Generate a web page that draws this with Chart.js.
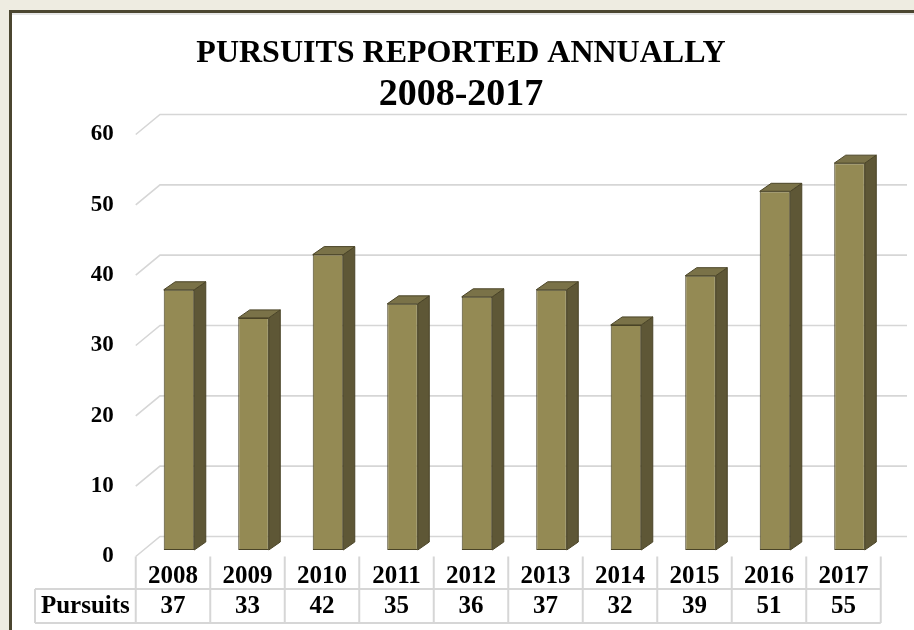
<!DOCTYPE html>
<html lang="en">
<head>
    <meta charset="UTF-8">
    <title>Pursuits Reported Annually</title>
    <script src="https://cdn.jsdelivr.net/npm/chart.js"></script>
    <style>
        html, body { margin: 0; padding: 0; background: #EEECE1; }
        body { width: 914px; height: 630px; position: relative; overflow: hidden; }
        .frame {
            position: absolute; left: 9px; top: 10px; right: -10px; bottom: -10px;
            background: #fff;
            border-left: 3px solid #4B4630;
            border-top: 3px solid #4B4630;
            box-shadow: inset 0 2px 0 #e6e6e6;
        }
        #chart { position: absolute; left: 0; top: 0; }
    </style>
</head>
<body>
    <div class="frame"></div>
    <canvas id="chart" width="914" height="630"></canvas>

    <script>
        // data
        const years = ["2008", "2009", "2010", "2011", "2012", "2013", "2014", "2015", "2016", "2017"];
        const pursuits = [37, 33, 42, 35, 36, 37, 32, 39, 51, 55];
        const rowLabel = "Pursuits";
        const yMax = 60;
        const yStep = 10;

        const serif = "'Liberation Serif', 'Times New Roman', serif";

        // 3d offsets, relative to the plane of the bar fronts
        const FRONT_DX = -6, FRONT_DY = 6.5;   // front edge of floor / table
        const BACK_DX = 18.25, BACK_DY = -13.5; // back wall
        const DEPTH_DX = 11.5, DEPTH_DY = -8;   // bar depth

        const threeD = {
            id: "threeD",
            beforeDatasetsDraw(chart) {
                const ctx = chart.ctx;
                const y = chart.scales.y, x = chart.scales.x;
                ctx.save();
                ctx.strokeStyle = "#d6d6d6";
                ctx.lineWidth = 1.6;
                y.ticks.forEach(t => {
                    const py = y.getPixelForValue(t.value);
                    ctx.beginPath();
                    ctx.moveTo(x.left + FRONT_DX, py + FRONT_DY);
                    ctx.lineTo(x.left + BACK_DX, py + BACK_DY);
                    ctx.lineTo(x.right + BACK_DX + 2, py + BACK_DY);
                    ctx.stroke();
                });
                ctx.restore();
            },
            afterDatasetsDraw(chart) {
                const ctx = chart.ctx;
                const meta = chart.getDatasetMeta(0);
                ctx.save();
                ctx.strokeStyle = "#4A4427";
                ctx.lineWidth = 1;
                ctx.lineJoin = "round";
                meta.data.forEach(bar => {
                    const p = bar.getProps(["x", "y", "base", "width"], true);
                    const l = p.x - p.width / 2, r = p.x + p.width / 2;
                    // side
                    ctx.beginPath();
                    ctx.moveTo(r, p.y);
                    ctx.lineTo(r + DEPTH_DX, p.y + DEPTH_DY);
                    ctx.lineTo(r + DEPTH_DX, p.base + DEPTH_DY);
                    ctx.lineTo(r, p.base);
                    ctx.closePath();
                    ctx.fillStyle = "#5E5736";
                    ctx.fill();
                    ctx.stroke();
                    // top
                    ctx.beginPath();
                    ctx.moveTo(l, p.y);
                    ctx.lineTo(l + DEPTH_DX, p.y + DEPTH_DY);
                    ctx.lineTo(r + DEPTH_DX, p.y + DEPTH_DY);
                    ctx.lineTo(r, p.y);
                    ctx.closePath();
                    ctx.fillStyle = "#7A7248";
                    ctx.fill();
                    ctx.stroke();
                });
                ctx.restore();
            },
            afterDraw(chart) {
                // data table under the axis
                const ctx = chart.ctx;
                const x = chart.scales.x, y = chart.scales.y;
                const step = (x.right - x.left) / years.length;
                const top = y.getPixelForValue(0) + FRONT_DY;
                const row1 = 589, row2 = 623, labelLeft = 35;
                const tLeft = x.left + FRONT_DX, tRight = x.right + FRONT_DX;

                ctx.save();
                ctx.strokeStyle = "#d6d6d6";
                ctx.lineWidth = 2;
                ctx.beginPath();
                for (let i = 0; i <= years.length; i++) {
                    const bx = tLeft + step * i;
                    ctx.moveTo(bx, top);
                    ctx.lineTo(bx, row2);
                }
                ctx.moveTo(labelLeft, row1); ctx.lineTo(tRight, row1);
                ctx.moveTo(labelLeft, row2); ctx.lineTo(tRight, row2);
                ctx.moveTo(labelLeft, row1); ctx.lineTo(labelLeft, row2);
                ctx.stroke();

                ctx.fillStyle = "#000";
                ctx.font = "bold 25px " + serif;
                ctx.textAlign = "center";
                ctx.textBaseline = "middle";
                years.forEach((yr, i) => {
                    const cx = x.getPixelForValue(i) + FRONT_DX;
                    ctx.fillText(yr, cx, 577);
                    ctx.fillText(String(pursuits[i]), cx, 607);
                });
                ctx.fillText(rowLabel, (labelLeft + tLeft) / 2, 607);
                ctx.restore();
            }
        };

        new Chart(document.getElementById("chart"), {
            type: "bar",
            data: {
                labels: years,
                datasets: [{
                    label: rowLabel,
                    data: pursuits,
                    backgroundColor: "#948A54",
                    borderColor: "#4A4427",
                    borderWidth: 1,
                    borderSkipped: false,
                    barPercentage: 0.41,
                    categoryPercentage: 1
                }]
            },
            options: {
                responsive: false,
                animation: false,
                devicePixelRatio: 1,
                layout: { padding: { left: 8, right: 0, top: 0, bottom: 80 } },
                plugins: {
                    legend: { display: false },
                    tooltip: { enabled: false },
                    title: {
                        display: true,
                        text: "PURSUITS REPORTED ANNUALLY",
                        color: "#000",
                        font: { family: serif, size: 32, weight: "bold", lineHeight: 1 },
                        padding: { top: 37.5, bottom: 0 }
                    },
                    subtitle: {
                        display: true,
                        text: "2008-2017",
                        color: "#000",
                        font: { family: serif, size: 38, weight: "bold", lineHeight: 1 },
                        padding: { top: 6.2, bottom: 14.3 }
                    }
                },
                scales: {
                    x: { display: false },
                    y: {
                        min: 0,
                        max: yMax,
                        grid: { display: false, drawTicks: false },
                        border: { display: false },
                        ticks: {
                            stepSize: yStep,
                            padding: 28,
                            labelOffset: 6.5,
                            color: "#000",
                            font: { family: serif, size: 23, weight: "bold" }
                        },
                        afterFit(scale) { scale.width = 133.75; }
                    },
                    // empty right-hand axis, only keeps room for the 3d depth
                    yRight: {
                        position: "right",
                        grid: { display: false, drawTicks: false },
                        border: { display: false },
                        ticks: { display: false },
                        afterFit(scale) { scale.width = 27.25; }
                    }
                }
            },
            plugins: [threeD]
        });
    </script>
</body>
</html>
